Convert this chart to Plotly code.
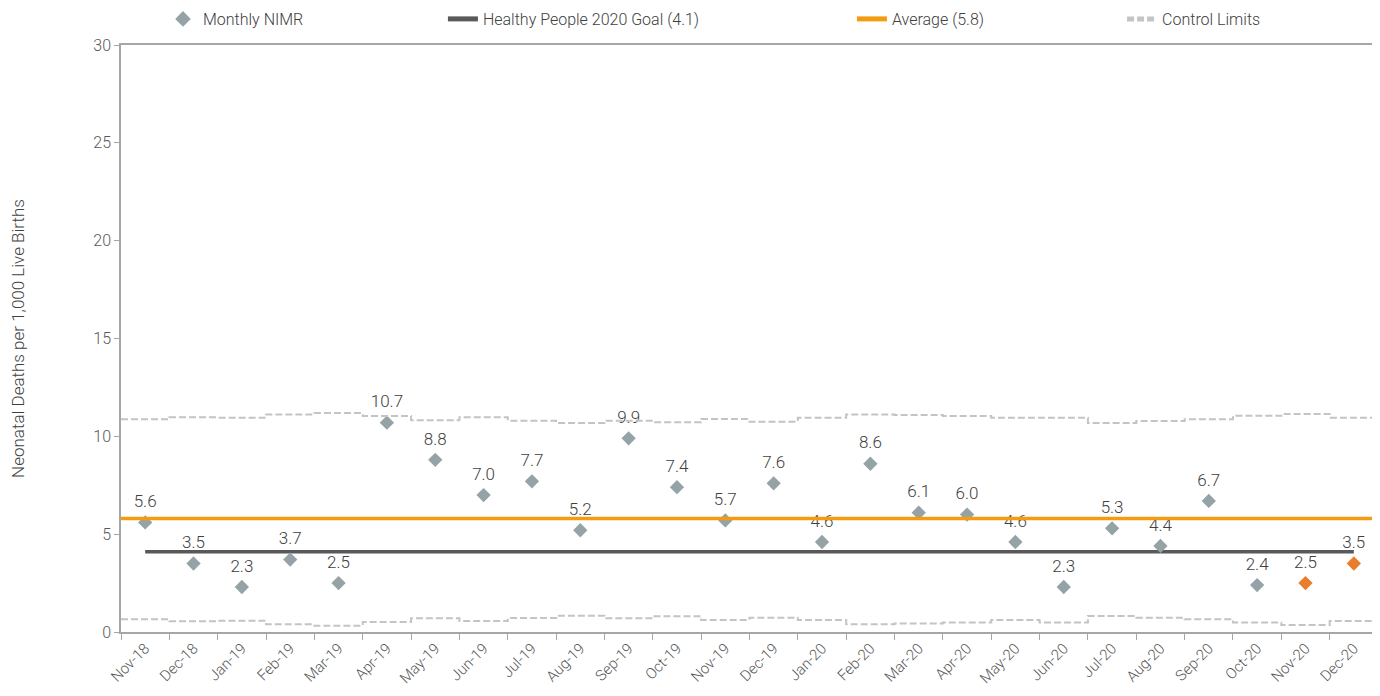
import plotly.graph_objects as go

months = ["Nov-18", "Dec-18", "Jan-19", "Feb-19", "Mar-19", "Apr-19", "May-19", "Jun-19",
          "Jul-19", "Aug-19", "Sep-19", "Oct-19", "Nov-19", "Dec-19", "Jan-20", "Feb-20",
          "Mar-20", "Apr-20", "May-20", "Jun-20", "Jul-20", "Aug-20", "Sep-20", "Oct-20",
          "Nov-20", "Dec-20"]
nimr = [5.6, 3.5, 2.3, 3.7, 2.5, 10.7, 8.8, 7.0, 7.7, 5.2, 9.9, 7.4, 5.7, 7.6, 4.6, 8.6,
        6.1, 6.0, 4.6, 2.3, 5.3, 4.4, 6.7, 2.4, 2.5, 3.5]
highlight_months = ["Nov-20", "Dec-20"]
goal = 4.1
average = 5.8
ucl = [10.87, 10.97, 10.95, 11.12, 11.19, 11.04, 10.82, 10.97, 10.80, 10.68, 10.80, 10.72,
       10.88, 10.75, 10.95, 11.12, 11.09, 11.04, 10.95, 10.95, 10.68, 10.78, 10.87, 11.05,
       11.14, 10.95]
lcl = [0.65, 0.55, 0.58, 0.39, 0.32, 0.51, 0.70, 0.56, 0.72, 0.83, 0.70, 0.80,
       0.61, 0.73, 0.61, 0.39, 0.44, 0.49, 0.61, 0.49, 0.82, 0.73, 0.65, 0.49,
       0.36, 0.56]

FONT = "Roboto"
TXT = "#404040"
AX = "#A6A6A6"

fig = go.Figure()

n = len(months)
steps_x = list(range(n + 1))
cl_line = dict(color="#C4C4C4", width=2, dash="7px,3px")

# control limits (step lines across each month)
fig.add_trace(go.Scatter(
    x=steps_x, y=ucl + [ucl[-1]], xaxis="x2", mode="lines", line_shape="hv",
    line=cl_line, name="Control Limits", legend="legend4", hoverinfo="skip"))
fig.add_trace(go.Scatter(
    x=steps_x, y=lcl + [lcl[-1]], xaxis="x2", mode="lines", line_shape="hv",
    line=cl_line, showlegend=False, hoverinfo="skip"))

# average line (full width)
fig.add_trace(go.Scatter(
    x=[0, n], y=[average, average], xaxis="x2", mode="lines",
    line=dict(color="#F39C12", width=3.5), name="Average (5.8)", legend="legend3"))

# goal line
fig.add_trace(go.Scatter(
    x=[months[0], months[-1]], y=[goal, goal], mode="lines",
    line=dict(color="#595959", width=3.5), name="Healthy People 2020 Goal (4.1)",
    legend="legend2"))

gx = [m for m in months if m not in highlight_months]
gy = [v for m, v in zip(months, nimr) if m not in highlight_months]
ox = [m for m in months if m in highlight_months]
oy = [v for m, v in zip(months, nimr) if m in highlight_months]

lblfont = dict(family=FONT, size=17, color=TXT, weight=300)

# data labels (transparent spacer markers give the gap above points)
fig.add_trace(go.Scatter(
    x=months, y=nimr, mode="markers+text", text=[f"{v:.1f}" for v in nimr],
    textposition="top center", textfont=lblfont,
    marker=dict(size=16, color="rgba(0,0,0,0)"), showlegend=False, hoverinfo="skip"))

fig.add_trace(go.Scatter(
    x=gx, y=gy, mode="markers",
    marker=dict(symbol="diamond", size=11, color="#95A3A6"),
    name="Monthly NIMR", legend="legend"))
fig.add_trace(go.Scatter(
    x=ox, y=oy, mode="markers",
    marker=dict(symbol="diamond", size=11, color="#E87D2B"), showlegend=False))

legfont = dict(family=FONT, size=16, color=TXT, weight=300)


def leg(x):
    return dict(x=x, y=1.0443, xanchor="left", yanchor="middle", orientation="h",
                font=legfont, bgcolor="rgba(0,0,0,0)", itemwidth=30,
                itemsizing="constant")


fig.update_layout(
    width=1380, height=696,
    margin=dict(l=113, r=10, t=37, b=72, autoexpand=False),
    paper_bgcolor="white", plot_bgcolor="white",
    font=dict(family=FONT, color=TXT),
    legend=leg(0.0334),
    legend2=leg(0.2561),
    legend3=leg(0.5815),
    legend4=leg(0.7964),
    xaxis=dict(type="category", categoryorder="array", categoryarray=months,
               range=[-0.5, n - 0.5], tickson="boundaries", ticks="outside", ticklen=6,
               tickcolor=AX, showline=True, linecolor=AX, linewidth=1.5, mirror=True,
               showgrid=False, zeroline=False, tickangle=-45, automargin=False,
               tickfont=dict(family=FONT, size=15, color="#595959", weight=300)),
    xaxis2=dict(overlaying="x", range=[0, n], visible=False, showgrid=False),
    yaxis=dict(range=[0, 30], dtick=5, ticks="outside", ticklen=5, tickcolor=AX,
               showline=True, linecolor=AX, linewidth=1.5, mirror=True,
               showgrid=False, zeroline=False, automargin=False,
               tickfont=dict(family=FONT, size=16, color="#595959", weight=300),
               title=dict(text="Neonatal Deaths per 1,000 Live Births", standoff=70,
                          font=dict(family=FONT, size=17, color=TXT, weight=300))),
)

fig.write_html("out.html")
